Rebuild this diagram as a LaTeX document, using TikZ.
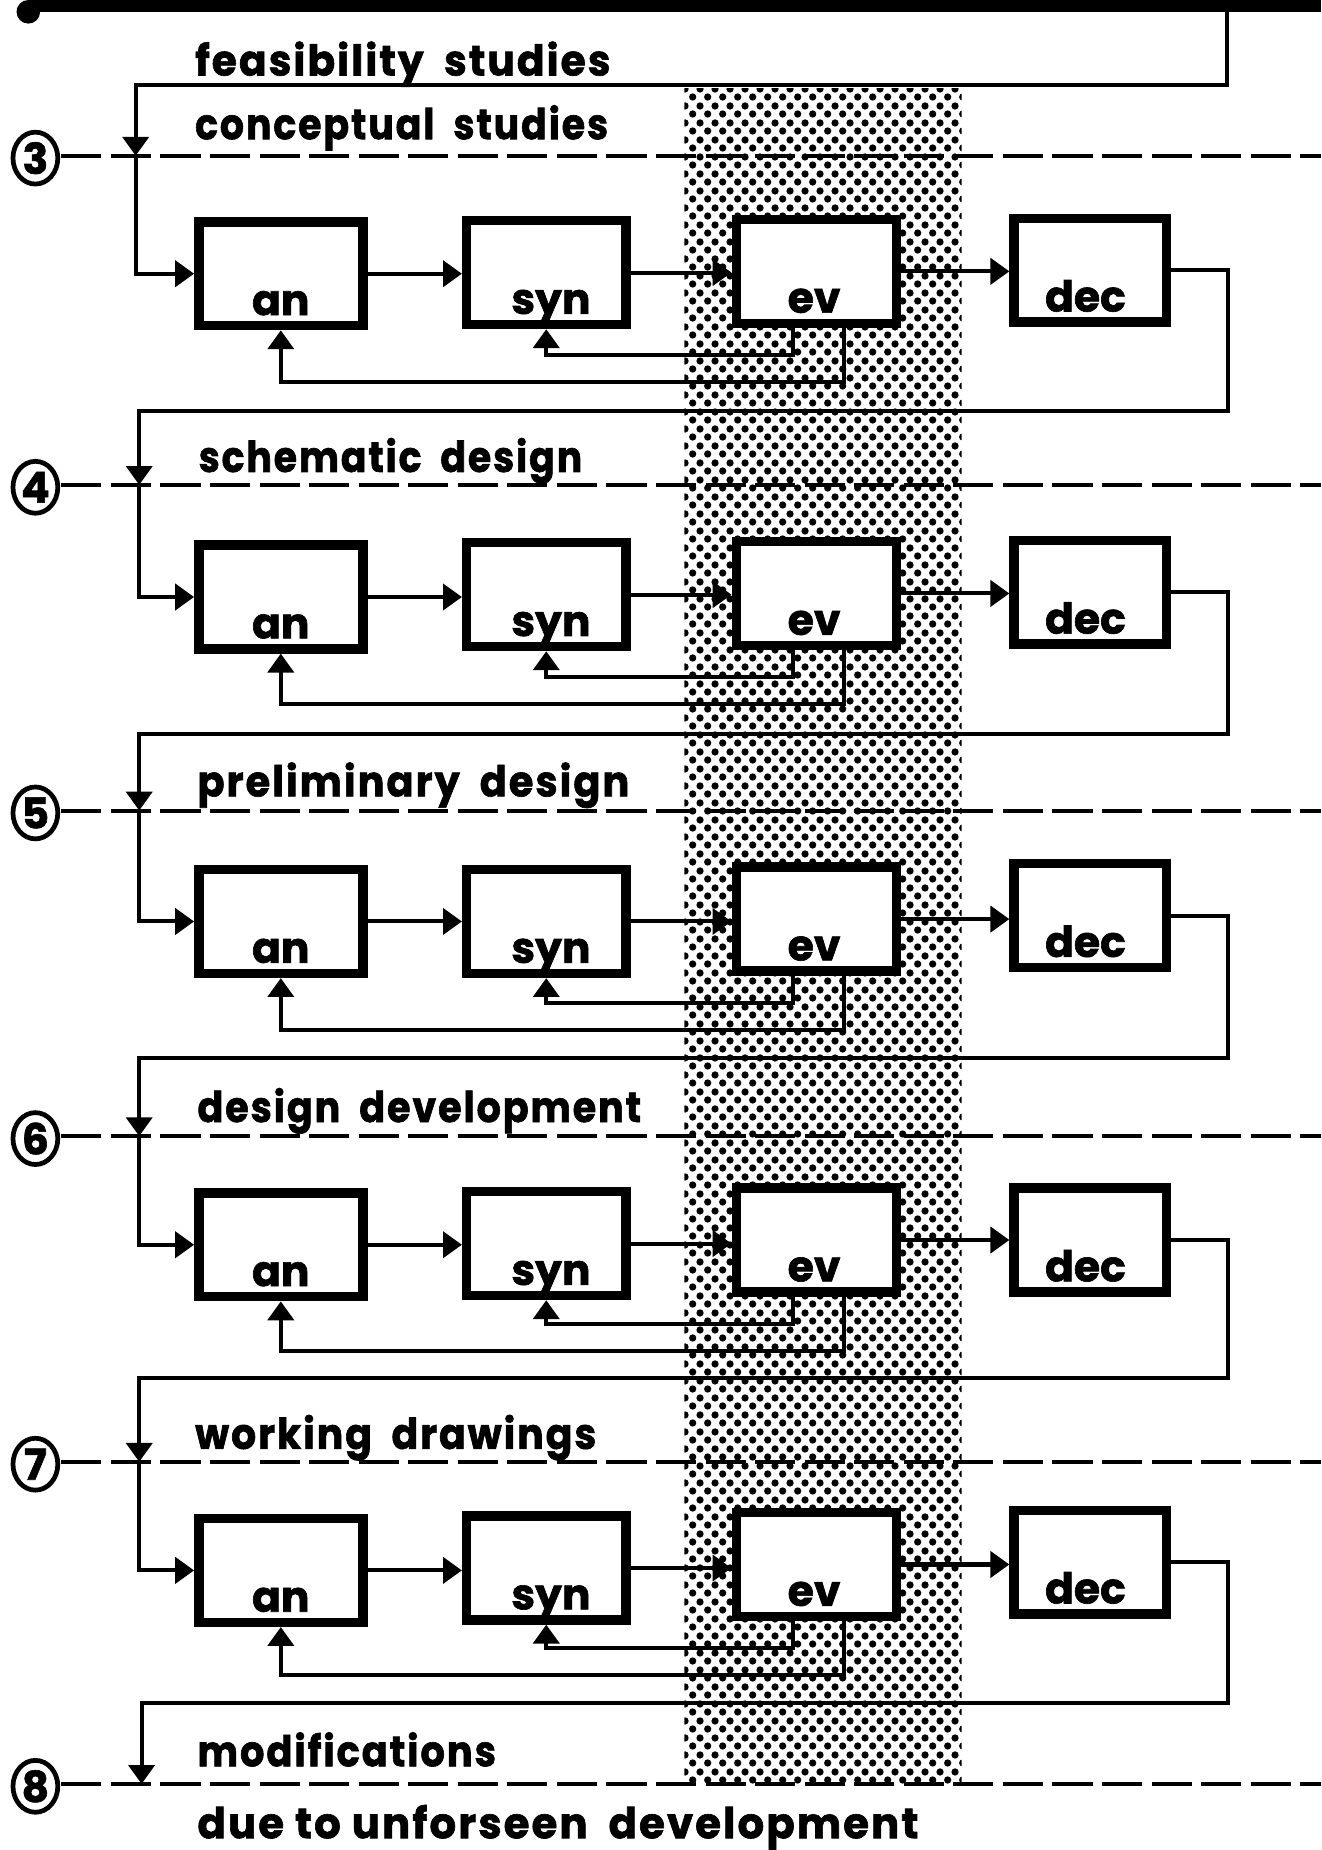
\documentclass[tikz,border=0pt]{standalone}
\usepackage{fontspec}
\usepackage{graphicx}
\newfontfamily\popt{Poppins}[LetterSpace=5, BoldFeatures={FakeBold=1.5}]
\newfontfamily\popl{Poppins}[BoldFeatures={FakeBold=1.5}]
\usetikzlibrary{arrows.meta,calc,patterns.meta,shapes.geometric}
\newcommand\ttlfont{\popt\bfseries\fontsize{18}{20}\selectfont}
\newcommand\lblfont{\popl\bfseries\fontsize{18}{20}\selectfont}
\newcommand\numfont{\popl\bfseries\fontsize{18}{20}\selectfont}
\newcommand\wg{\hspace{9pt}}
\newcommand\fitw[2]{\resizebox{#1}{\height}{#2}}
\tikzdeclarepattern{
  name=halftone,
  type=uncolored,
  bounding box={(0pt,0pt) and (6.5pt,7pt)},
  tile size={(6.5pt,7pt)},
  code={
    \fill (1.625pt,1.75pt) circle (1.6pt);
    \fill (4.875pt,5.25pt) circle (1.6pt);
  }
}
\tikzset{
  box/.style={draw, line width=4pt, fill=white, minimum height=44pt, inner sep=0pt},
  lbl/.style={anchor=base, inner sep=0pt, font=\lblfont},
  conn/.style={line width=1.7pt},
  arr/.style={conn, -{Triangle[length=8pt,width=11pt]}},
  dashline/.style={line width=1.7pt, dash pattern=on 17pt off 4pt},
  num/.style={draw, ellipse, line width=2pt, minimum width=19pt, minimum height=22pt, inner sep=0pt, font=\numfont},
  ttl/.style={anchor=base west, inner sep=0pt, font=\ttlfont},
  stipple/.style={pattern=halftone, pattern color=black},
}
\begin{document}
\begin{tikzpicture}[x=0.5pt,y=-0.5pt]
\useasboundingbox (0,0) rectangle (1120,1568);
% stippled evaluation band
\path[stipple] (580,75) rectangle (815,1512);
% top line with start dot
\node[circle, fill, minimum size=10pt, inner sep=0pt] (start) at (24,10) {};
\coordinate (topL) at (24,5);
\coordinate (topE) at (1120,5);
\coordinate (topR) at (1040,5);
\draw[line width=5pt] (topL) -- (topE);
% titles
\node[ttl] (t1) at (165,64) {\fitw{176pt}{feasibility\wg studies}};
\node[ttl] (t2) at (165,118) {\fitw{175pt}{conceptual\wg studies}};
\node[ttl] (t3) at (168,400) {\fitw{162.5pt}{schematic\wg design}};
\node[ttl] (t4) at (167,675) {\fitw{183pt}{preliminary\wg design}};
\node[ttl] (t5) at (167,951) {\fitw{188pt}{design\wg development}};
\node[ttl] (t6) at (165,1228) {\fitw{170pt}{working\wg drawings}};
\node[ttl] (t7) at (167,1497) {\fitw{126.5pt}{modifications}};
\node[ttl] (t8) at (167,1558) {\fitw{305.5pt}{due to unforseen\wg development}};
% entry into first stage
\coordinate (in0) at (115,132);
\draw[arr] (topR) -- (1040,72) -- (115,72) -- (in0);
% stages
\foreach \i/\n/\D/\ya/\ys/\ye/\yd/\R/\L/\Dn/\Ln in {
  0/3/132/232/231/230/229/348/115/411/118,
  1/4/411/506/504/503/502/622/118/687/118,
  2/5/687/781/781/779/776/897/118/963/118,
  3/6/963/1055/1054/1051/1051/1168/118/1239/118,
  4/7/1239/1331/1329/1326/1324/1443/118/1512/120}{
  \node[num] (c\n) at (30,\D+2) {\n};
  \coordinate (s\i) at (52,\D);
  \coordinate (e\i) at (1120,\D);
  \draw[dashline] (s\i) -- (e\i);
  \node[box, minimum width=69.5pt] (an\i) at (238,\ya) {};
  \node[box, minimum width=67.5pt] (syn\i) at (463,\ys) {};
  \node[box, minimum width=68pt] (ev\i) at (692,\ye) {};
  \node[box, minimum width=64.5pt] (dec\i) at (924,\yd) {};
  \node[lbl] at ([yshift=6.5pt]an\i.south) {an};
  \node[lbl] at ([yshift=6.5pt,xshift=2pt]syn\i.south) {syn};
  \node[lbl] at ([yshift=6.5pt,xshift=-1pt]ev\i.south) {ev};
  \node[lbl] at ([yshift=6.5pt,xshift=-2pt]dec\i.south) {dec};
  \coordinate (in\i) at (\L,\D);
  \draw[arr] (in\i) |- (an\i.west);
  \draw[arr] (an\i.east) -- (an\i.east -| syn\i.west);
  \draw[arr] (syn\i.east) -- (syn\i.east -| ev\i.west);
  \draw[arr] (ev\i.east) -- (ev\i.east -| dec\i.west);
  \draw[arr] ($(ev\i.south)+(-20,0)$) -- ++(0,23) -| (syn\i.south);
  \draw[arr] ($(ev\i.south)+(23,0)$) -- ++(0,46) -| (an\i.south);
  \coordinate (r\i) at (1041,\R);
  \draw[arr] (dec\i.east) -| (r\i) -- (\Ln,\R) -- (\Ln,\Dn);
}
% final stage marker
\node[num] (c8) at (30,1514) {8};
\coordinate (s5) at (52,1512);
\coordinate (e5) at (1120,1512);
\draw[dashline] (s5) -- (e5);
\end{tikzpicture}
\end{document}
